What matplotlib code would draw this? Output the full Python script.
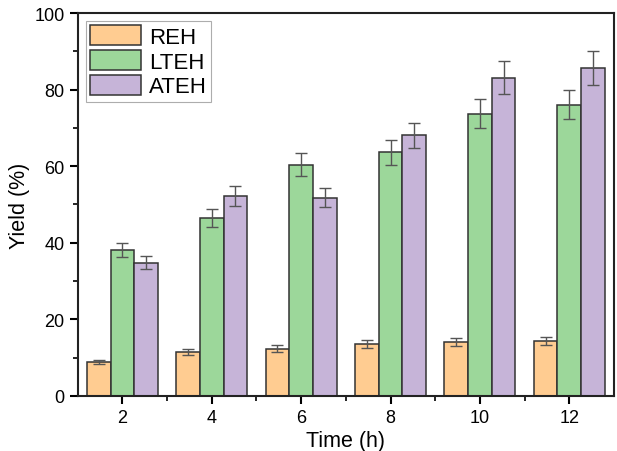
import numpy as np
import matplotlib
matplotlib.use('Agg')
import matplotlib.pyplot as plt
from matplotlib.ticker import MultipleLocator

plt.rcParams['font.family'] = ['Liberation Sans', 'DejaVu Sans']

time_h = [2, 4, 6, 8, 10, 12]
reh = [8.8, 11.4, 12.3, 13.6, 14.1, 14.4]
reh_err = [0.6, 0.8, 0.9, 1.0, 1.0, 1.1]
lteh = [38.0, 46.5, 60.4, 63.6, 73.7, 76.1]
lteh_err = [1.8, 2.3, 3.0, 3.2, 3.8, 3.9]
ateh = [34.8, 52.3, 51.8, 68.1, 83.1, 85.7]
ateh_err = [1.7, 2.6, 2.6, 3.3, 4.3, 4.4]

series = [('REH', reh, reh_err, '#ffcc91'),
          ('LTEH', lteh, lteh_err, '#9cd79a'),
          ('ATEH', ateh, ateh_err, '#c6b4d8')]

fig = plt.figure(figsize=(6.17, 4.52), dpi=100)
ax = fig.add_axes([0.126, 0.122, 0.869, 0.847])

w = 0.53
x = np.array(time_h, dtype=float)
for i, (name, vals, errs, col) in enumerate(series):
    ax.bar(x + (i - 1) * w, vals, width=w, color=col, edgecolor='#333333',
           linewidth=1.1, label=name, zorder=2)
    ax.errorbar(x + (i - 1) * w, vals, yerr=errs, fmt='none', ecolor='#555555',
                elinewidth=1.0, capsize=4, capthick=1.0, zorder=3)

ax.set_xlim(1, 13)
ax.set_ylim(0, 100)
ax.set_xticks(time_h)
ax.set_xticks([3, 5, 7, 9, 11], minor=True)
ax.yaxis.set_major_locator(MultipleLocator(20))
ax.yaxis.set_minor_locator(MultipleLocator(10))
ax.tick_params(which='major', direction='out', length=6, width=1.5, labelsize=13)
ax.tick_params(which='minor', direction='out', length=3.5, width=1.2)
for s in ax.spines.values():
    s.set_linewidth(1.5)
    s.set_color('#222222')

ax.set_xlabel('Time (h)', fontsize=15.5, labelpad=3)
ax.set_ylabel('Yield (%)', fontsize=15.5, labelpad=3)

leg = ax.legend(loc='upper left', fontsize=16, frameon=True, fancybox=False,
                handlelength=2.3, handleheight=1.0, handletextpad=0.35,
                labelspacing=0.1, borderpad=0.2, borderaxespad=0.35)
leg.get_frame().set_edgecolor('#999999')
leg.get_frame().set_linewidth(0.8)

plt.savefig('out.png', dpi=100)
